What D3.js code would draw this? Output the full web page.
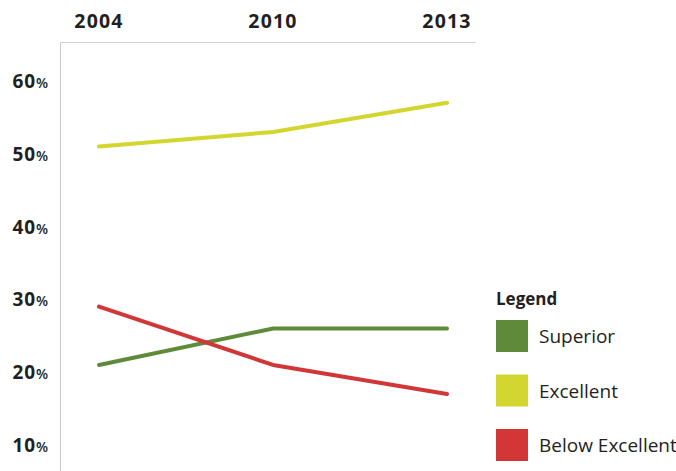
<!DOCTYPE html>
<html><head><meta charset="utf-8">
<script src="https://cdn.jsdelivr.net/npm/d3@7"></script>
<style>body{margin:0;background:#fff}svg{display:block}text{font-family:"Open Sans",sans-serif;fill:#231f20}</style>
</head><body><svg id="c" width="676" height="471"></svg>
<script>
const years = ["2004","2010","2013"];
const yTicks = [10,20,30,40,50,60];
const seriesNames = ["Superior","Excellent","Below Excellent"];
const seriesColors = ["#5e8a3a","#d3d62e","#d33636"];
const superior = [21,26,26];
const excellent = [51,53,57];
const belowExcellent = [29,21,17];
const seriesValues = [superior, excellent, belowExcellent];

const svg = d3.select("#c");
const x = d3.scalePoint().domain(years).range([99,447]);
const y = d3.scaleLinear().domain([10,60]).range([445,81]);

// frame
svg.append("line").attr("x1",60.5).attr("x2",476).attr("y1",42.5).attr("y2",42.5).attr("stroke","#d4d4d4").attr("stroke-width",1);
svg.append("line").attr("x1",60.5).attr("x2",60.5).attr("y1",42.5).attr("y2",471).attr("stroke","#c8c8c8").attr("stroke-width",1);

// x labels on top
svg.selectAll(".xl").data(years).join("text").attr("class","xl")
  .attr("x",d=>x(d)).attr("y",28).attr("text-anchor","middle")
  .attr("font-size",19.5).attr("font-weight",700).attr("letter-spacing",1.2).text(d=>d);

// y labels
const yl = svg.selectAll(".yl").data(yTicks).join("text").attr("class","yl")
  .attr("x",48).attr("y",d=>y(d)+7).attr("text-anchor","end")
  .attr("font-size",19).attr("font-weight",700).attr("letter-spacing",0.8);
yl.append("tspan").text(d=>d);
yl.append("tspan").attr("font-size",14).attr("font-weight",600).attr("letter-spacing",0).text("%");

// lines
const line = d3.line().x((d,i)=>x(years[i])).y(d=>y(d));
svg.selectAll(".ln").data(seriesValues).join("path").attr("class","ln")
  .attr("d",line).attr("fill","none").attr("stroke",(d,i)=>seriesColors[i])
  .attr("stroke-width",4).attr("stroke-linecap","round").attr("stroke-linejoin","round");

// legend
svg.append("text").attr("x",496).attr("y",305).attr("font-size",17).attr("font-weight",700).text("Legend");
const lg = svg.selectAll(".lg").data(seriesNames).join("g").attr("class","lg")
  .attr("transform",(d,i)=>`translate(496,${320+i*54.5})`);
lg.append("rect").attr("width",32).attr("height",32).attr("fill",(d,i)=>seriesColors[i]);
lg.append("text").attr("x",43).attr("y",23).attr("font-size",19).attr("fill","#333").text(d=>d);
</script></body></html>
